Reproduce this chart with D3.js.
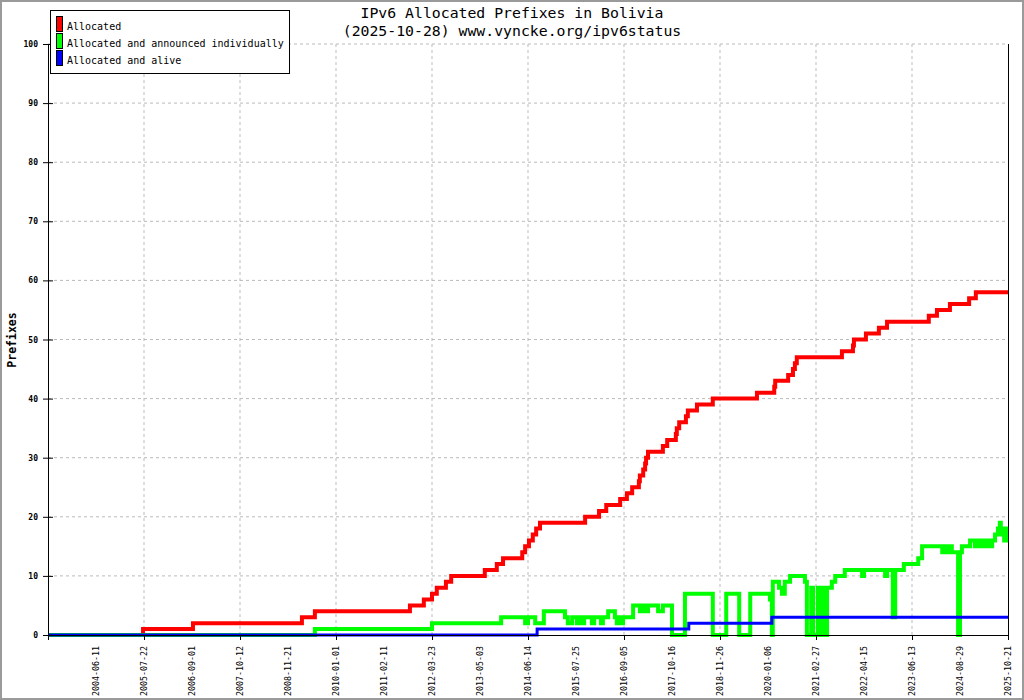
<!DOCTYPE html>
<html>
<head>
<meta charset="utf-8">
<script src="https://cdn.jsdelivr.net/npm/d3@7"></script>
<style>
  body { margin: 0; background: #fff; }
  svg { display: block; }
</style>
</head>
<body>
<div id="chart"></div>
<script>
// x positions are in "label steps": label i sits at position i (1..20)
const tickLabels = ["2004-06-11", "2005-07-22", "2006-09-01", "2007-10-12", "2008-11-21",
    "2010-01-01", "2011-02-11", "2012-03-23", "2013-05-03", "2014-06-14",
    "2015-07-25", "2016-09-05", "2017-10-16", "2018-11-26", "2020-01-06",
    "2021-02-27", "2022-04-15", "2023-06-13", "2024-08-29", "2025-10-21"];

const seriesNames = ["Allocated", "Allocated and announced individually", "Allocated and alive"];

const allocated = [
    [0, 0], [1.98, 1], [3.02, 2], [5.29, 3], [5.56, 4], [7.54, 5], [7.83, 6], [8.0, 7],
    [8.1, 8], [8.29, 9], [8.4, 10], [9.1, 11], [9.35, 12], [9.48, 13], [9.88, 14],
    [9.94, 15], [10.02, 16], [10.1, 17], [10.17, 18], [10.25, 19], [11.19, 20],
    [11.48, 21], [11.63, 22], [11.92, 23], [12.06, 24], [12.17, 25], [12.31, 26],
    [12.33, 27], [12.4, 28], [12.44, 29], [12.46, 30], [12.5, 31], [12.81, 32],
    [12.9, 33], [13.08, 34], [13.1, 35], [13.15, 36], [13.29, 37], [13.33, 38],
    [13.52, 39], [13.85, 40], [14.77, 41], [15.13, 42], [15.15, 43], [15.42, 44],
    [15.52, 45], [15.56, 46], [15.6, 47], [16.54, 48], [16.77, 49], [16.79, 50],
    [17.04, 51], [17.31, 52], [17.48, 53], [18.35, 54], [18.52, 55], [18.79, 56],
    [19.19, 57], [19.33, 58], [20, 58]
];

const announced = [
    [0, 0], [5.56, 1], [8.0, 2], [9.44, 3], [9.94, 2], [10.0, 3], [10.15, 2], [10.33, 4],
    [10.77, 3], [10.83, 2], [10.92, 3], [11.02, 2], [11.06, 3], [11.13, 2], [11.17, 3],
    [11.33, 2], [11.38, 3], [11.52, 2], [11.56, 3], [11.67, 4], [11.81, 3], [11.85, 2],
    [11.9, 3], [11.94, 2], [11.98, 3], [12.19, 5], [12.33, 4], [12.38, 5], [12.46, 4],
    [12.5, 5], [12.71, 4], [12.81, 5], [13.0, 0], [13.27, 7], [13.85, 0], [14.13, 7],
    [14.4, 0], [14.63, 7], [15.04, 6], [15.08, 0], [15.1, 9], [15.23, 8], [15.29, 7],
    [15.35, 9], [15.46, 10], [15.77, 9], [15.81, 0], [15.9, 8], [15.94, 0], [16.04, 8],
    [16.1, 0], [16.13, 8], [16.21, 0], [16.23, 8], [16.33, 9], [16.4, 10], [16.6, 11],
    [16.96, 10], [17.0, 11], [17.44, 10], [17.48, 11], [17.6, 3], [17.65, 11], [17.83, 12],
    [18.13, 13], [18.21, 15], [18.63, 14], [18.67, 15], [18.73, 14], [18.79, 15],
    [18.83, 14], [18.96, 0], [19.0, 14], [19.04, 15], [19.21, 16], [19.31, 15],
    [19.35, 16], [19.42, 15], [19.46, 16], [19.52, 15], [19.56, 16], [19.63, 15],
    [19.67, 16], [19.73, 17], [19.79, 18], [19.83, 19], [19.85, 17], [19.88, 18],
    [19.92, 16], [19.96, 18], [20, 18]
];

const alive = [[0, 0], [10.19, 1], [13.35, 2], [15.08, 3], [20, 3]];

const yTicks = [0, 10, 20, 30, 40, 50, 60, 70, 80, 90, 100];

const W = 1024, H = 700;
const margin = {top: 44, right: 16, bottom: 65, left: 48};
const mono = "'DejaVu Sans Mono', monospace";

const svg = d3.select("#chart").append("svg")
    .attr("width", W)
    .attr("height", H);

// outer frame
svg.append("rect")
    .attr("x", 1).attr("y", 1)
    .attr("width", W - 2).attr("height", H - 2)
    .attr("fill", "#fff")
    .attr("stroke", "#9a9a9a")
    .attr("stroke-width", 2);

const x = d3.scaleLinear()
    .domain([0, 20])
    .range([margin.left, W - margin.right]);

const y = d3.scaleLinear()
    .domain([0, 100])
    .range([H - margin.bottom, margin.top]);

// grid
svg.append("g")
    .selectAll("line")
    .data(yTicks.filter(d => d > 0))
    .join("line")
    .attr("x1", x(0)).attr("x2", x(20))
    .attr("y1", d => y(d)).attr("y2", d => y(d))
    .attr("stroke", "#bbb")
    .attr("stroke-dasharray", "3 3");

svg.append("g")
    .selectAll("line")
    .data(d3.range(2, 20, 2))
    .join("line")
    .attr("x1", d => x(d)).attr("x2", d => x(d))
    .attr("y1", y(0)).attr("y2", y(100))
    .attr("stroke", "#bbb")
    .attr("stroke-dasharray", "3 3");

// right edge line
svg.append("line")
    .attr("x1", x(20) + 0.5).attr("x2", x(20) + 0.5)
    .attr("y1", y(100)).attr("y2", y(0))
    .attr("stroke", "#000");

// series
const line = d3.line()
    .x(d => x(d[0]))
    .y(d => y(d[1]))
    .curve(d3.curveStepAfter);

svg.append("path")
    .datum(allocated)
    .attr("d", line)
    .attr("fill", "none")
    .attr("stroke", "#ff0000")
    .attr("stroke-width", 4);

svg.append("path")
    .datum(announced)
    .attr("d", line)
    .attr("fill", "none")
    .attr("stroke", "#00ff00")
    .attr("stroke-width", 4);

svg.append("path")
    .datum(alive)
    .attr("d", line)
    .attr("fill", "none")
    .attr("stroke", "#0000ff")
    .attr("stroke-width", 3);

// y axis
const yAxis = svg.append("g")
    .attr("transform", `translate(${x(0)},0)`)
    .call(d3.axisLeft(y).tickValues(yTicks).tickSize(5).tickPadding(5))
    .attr("font-family", mono)
    .attr("font-size", 8)
    .attr("font-weight", "bold");
yAxis.selectAll(".tick line").attr("x2", 5).attr("x1", -5);
yAxis.select(".domain").attr("d", `M0.5,${y(100)}V${y(0)}`);

// x axis
const xAxis = svg.append("g")
    .attr("transform", `translate(0,${y(0)})`)
    .call(d3.axisBottom(x).tickValues(d3.range(0, 21, 2)).tickSize(5).tickFormat(""));
xAxis.select(".domain").attr("d", `M${x(0)},0.5H${x(20)}`);

svg.append("g")
    .selectAll("text")
    .data(tickLabels)
    .join("text")
    .attr("transform", (d, i) => `translate(${x(i + 1) + 3},${y(0) + 11}) rotate(-90)`)
    .attr("text-anchor", "end")
    .attr("font-family", mono)
    .attr("font-size", 8.3)
    .text(d => d);

// y label
svg.append("text")
    .attr("transform", `translate(16,340) rotate(-90)`)
    .attr("text-anchor", "middle")
    .attr("font-family", mono)
    .attr("font-size", 11.5)
    .attr("font-weight", "bold")
    .text("Prefixes");

// title
svg.append("text")
    .attr("x", 512).attr("y", 18)
    .attr("text-anchor", "middle")
    .attr("font-family", mono)
    .attr("font-size", 14.8)
    .text("IPv6 Allocated Prefixes in Bolivia");

svg.append("text")
    .attr("x", 512).attr("y", 36)
    .attr("text-anchor", "middle")
    .attr("font-family", mono)
    .attr("font-size", 14.8)
    .text("(2025-10-28) www.vyncke.org/ipv6status");

// legend
const colors = ["#ff0000", "#00ff00", "#0000ff"];
const legend = svg.append("g");
legend.append("rect")
    .attr("x", 50.5).attr("y", 10.5)
    .attr("width", 239).attr("height", 63)
    .attr("fill", "#fff")
    .attr("stroke", "#000");

seriesNames.forEach((name, i) => {
    legend.append("rect")
        .attr("x", 56.5).attr("y", 16.5 + i * 17)
        .attr("width", 6).attr("height", 15)
        .attr("fill", colors[i])
        .attr("stroke", "#000");
    legend.append("text")
        .attr("x", 67).attr("y", 29.5 + i * 17)
        .attr("font-family", mono)
        .attr("font-size", 10)
        .text(name);
});
</script>
</body>
</html>
